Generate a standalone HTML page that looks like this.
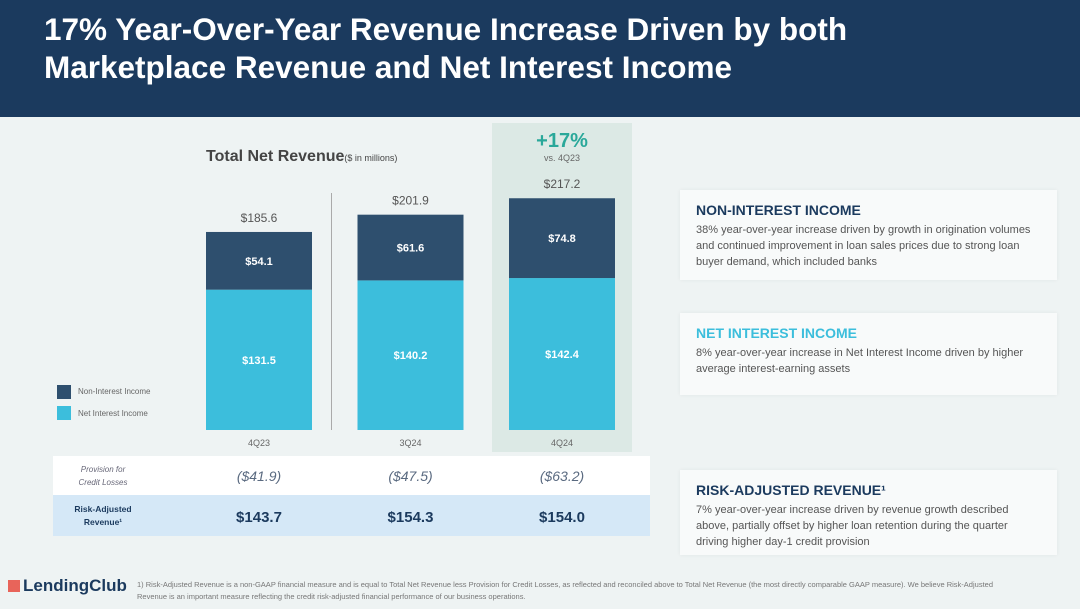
<!DOCTYPE html>
<html><head><meta charset="utf-8"><style>
body{margin:0;width:1080px;height:609px;overflow:hidden;background:#eef3f3;font-family:"Liberation Sans",sans-serif;position:relative}
.abs{position:absolute}
.hdr{left:0;top:0;width:1080px;height:117px;background:#1b3a5e;color:#fff;font-weight:bold;font-size:31.5px;line-height:38px;padding:10px 0 0 44px;box-sizing:border-box}
.box{background:#f8fafa;box-shadow:0 0 4px rgba(0,0,0,.06);padding:12px 22px 12px 16px;box-sizing:border-box;color:#555;font-size:11px;line-height:16px}
.box h3{margin:0 0 4px;font-size:14px;color:#1b3a5e}
.cell{position:absolute;text-align:center}
</style></head><body>
<div class="abs hdr">17% Year-Over-Year Revenue Increase Driven by both<br>Marketplace Revenue and Net Interest Income</div>
<div class="abs" style="left:492px;top:123px;width:140px;height:329px;background:#dce9e5"></div>
<div class="abs" style="left:206px;top:148px;font-size:16px;color:#444"><b>Total Net Revenue</b><span style="font-size:9px">($ in millions)</span></div>
<div class="abs" style="left:492px;top:130px;width:140px;text-align:center;color:#2aa89a;font-weight:bold;font-size:20px">+17%</div>
<div class="abs" style="left:492px;top:153px;width:140px;text-align:center;color:#666;font-size:9px">vs. 4Q23</div>
<div class="abs" style="left:331px;top:193px;width:1px;height:237px;background:#aaa"></div>
<div class="abs" style="left:57px;top:385px;width:14px;height:14px;background:#2e4f6e"></div>
<div class="abs" style="left:78px;top:387px;font-size:8px;color:#666">Non-Interest Income</div>
<div class="abs" style="left:57px;top:406px;width:14px;height:14px;background:#3cbedc"></div>
<div class="abs" style="left:78px;top:409px;font-size:8px;color:#666">Net Interest Income</div>
<div class="abs" style="left:53px;top:456px;width:597px;height:39px;background:#fff"></div>
<div class="abs" style="left:53px;top:495px;width:597px;height:41px;background:#d5e8f7"></div>
<div class="cell" style="left:53px;top:463px;width:100px;font-size:8px;font-style:italic;color:#667;line-height:13px">Provision for<br>Credit Losses</div>
<div class="cell" style="left:53px;top:503px;width:100px;font-size:8.5px;font-weight:bold;color:#1b3a5e;line-height:13px">Risk-Adjusted<br>Revenue¹</div>
<svg class="abs" style="left:0;top:0;z-index:2" width="1080" height="609" id="chart"></svg>
<div class="abs box" style="left:680px;top:190px;width:377px;height:90px"><h3>NON-INTEREST INCOME</h3>38% year-over-year increase driven by growth in origination volumes and continued improvement in loan sales prices due to strong loan buyer demand, which included banks</div>
<div class="abs box" style="left:680px;top:313px;width:377px;height:82px"><h3 style="color:#3cbedc">NET INTEREST INCOME</h3>8% year-over-year increase in Net Interest Income driven by higher average interest-earning assets</div>
<div class="abs box" style="left:680px;top:470px;width:377px;height:85px"><h3>RISK-ADJUSTED REVENUE¹</h3>7% year-over-year increase driven by revenue growth described above, partially offset by higher loan retention during the quarter driving higher day-1 credit provision</div>
<div class="abs" style="left:8px;top:580px;width:12px;height:12px;background:#e8645a"></div>
<div class="abs" style="left:23px;top:576px;font-size:17px;font-weight:bold;color:#1b3a5e">LendingClub</div>
<div class="abs" style="left:137px;top:579px;width:880px;font-size:7.5px;color:#777;line-height:12px">1) Risk-Adjusted Revenue is a non-GAAP financial measure and is equal to Total Net Revenue less Provision for Credit Losses, as reflected and reconciled above to Total Net Revenue (the most directly comparable GAAP measure). We believe Risk-Adjusted Revenue is an important measure reflecting the credit risk-adjusted financial performance of our business operations.</div>
<script>
const categories=["4Q23","3Q24","4Q24"];
const netInterest=[131.5,140.2,142.4];
const nonInterest=[54.1,61.6,74.8];
const totals=[185.6,201.9,217.2];
const provision=["($41.9)","($47.5)","($63.2)"];
const riskAdjusted=["$143.7","$154.3","$154.0"];
const svg=document.getElementById('chart'),NS="http://www.w3.org/2000/svg";
const base=430,k=1.067,x0=206,step=151.5,bw=106;
const y=v=>base-v*k, xb=i=>x0+i*step;
function el(t,a,txt){const e=document.createElementNS(NS,t);for(const p in a)e.setAttribute(p,a[p]);if(txt!=null)e.textContent=txt;svg.appendChild(e);return e;}
categories.forEach((c,i)=>{
 const x=xb(i),a=netInterest[i],b=nonInterest[i],tot=a+b;
 let r=el('rect',{x:x,y:y(a),width:bw,height:a*k,fill:'#3cbedc'});
 
 
 r=el('rect',{x:x,y:y(tot),width:bw,height:b*k,fill:'#2e4f6e'});
 
 
 el('text',{x:x+bw/2,y:y(a/2)+4,'text-anchor':'middle',fill:'#fff','font-size':11,'font-weight':'bold'},'$'+a.toFixed(1));
 el('text',{x:x+bw/2,y:y(a+b/2)+4,'text-anchor':'middle',fill:'#fff','font-size':11,'font-weight':'bold'},'$'+b.toFixed(1));
 el('text',{x:x+bw/2,y:y(tot)-10,'text-anchor':'middle',fill:'#555','font-size':12},'$'+totals[i].toFixed(1));
 el('text',{x:x+bw/2,y:446,'text-anchor':'middle',fill:'#666','font-size':9},c);
 el('text',{x:x+bw/2,y:481,'text-anchor':'middle',fill:'#5a6a80','font-size':14,'font-style':'italic'},provision[i]);
 el('text',{x:x+bw/2,y:522,'text-anchor':'middle',fill:'#1b3a5e','font-size':15,'font-weight':'bold'},riskAdjusted[i]);
});
</script>
</body></html>
